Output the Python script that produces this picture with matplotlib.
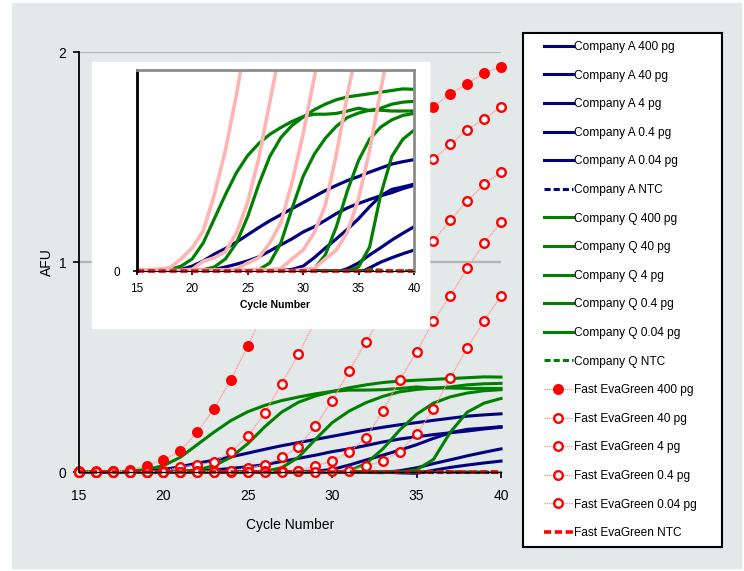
import matplotlib.pyplot as plt
from matplotlib.patches import Rectangle

# ---- data ----
cycles = list(range(15, 41))

a_400 = [0.0, 0.0, 0.001, 0.002, 0.004, 0.012, 0.025, 0.042, 0.056, 0.072, 0.09, 0.108, 0.125,
         0.14, 0.155, 0.17, 0.185, 0.2, 0.213, 0.225, 0.235, 0.246, 0.256, 0.266, 0.272, 0.277]
a_40 = [0.0, 0.0, 0.0, 0.0, 0.001, 0.001, 0.002, 0.004, 0.01, 0.017, 0.025, 0.035, 0.05,
        0.065, 0.08, 0.097, 0.11, 0.126, 0.143, 0.157, 0.168, 0.178, 0.187, 0.195, 0.205, 0.213]
a_4 = [0.0, 0.0, 0.0, 0.0, 0.0, 0.0, 0.0, 0.0, 0.0, 0.0, 0.001, 0.001, 0.002,
       0.002, 0.004, 0.012, 0.033, 0.057, 0.08, 0.104, 0.13, 0.16, 0.187, 0.203, 0.209, 0.216]
a_04 = [0.0, 0.0, 0.0, 0.0, 0.0, 0.0, 0.0, 0.0, 0.0, 0.0, 0.0, 0.0, 0.0,
        0.0, 0.0, 0.0, 0.0, -0.002, -0.003, 0.006, 0.02, 0.04, 0.058, 0.077, 0.094, 0.11]
a_004 = [0.0, 0.0, 0.0, 0.0, 0.0, 0.0, 0.0, 0.0, 0.0, 0.0, 0.0, 0.0, 0.0,
         0.0, 0.0, 0.0, 0.0, 0.0, 0.0, -0.004, -0.006, 0.008, 0.022, 0.033, 0.043, 0.052]
a_ntc = [0.0] * 26

q_400 = [0.0, 0.0, 0.001, 0.004, 0.012, 0.03, 0.07, 0.13, 0.19, 0.245, 0.287, 0.317, 0.34,
         0.357, 0.372, 0.384, 0.39, 0.39, 0.392, 0.398, 0.405, 0.399, 0.405, 0.415, 0.42, 0.422]
q_40 = [0.0, 0.0, 0.0, 0.0, 0.0, 0.001, 0.003, 0.01, 0.03, 0.07, 0.135, 0.215, 0.285,
        0.332, 0.362, 0.383, 0.401, 0.415, 0.426, 0.433, 0.437, 0.441, 0.445, 0.449, 0.453, 0.452]
q_4 = [0.0, 0.0, 0.0, 0.0, 0.0, 0.0, 0.0, 0.0, 0.0, 0.0, 0.0, 0.003, 0.02,
       0.07, 0.155, 0.235, 0.29, 0.33, 0.36, 0.382, 0.393, 0.4, 0.4, 0.398, 0.398, 0.398]
q_04 = [0.0, 0.0, 0.0, 0.0, 0.0, 0.0, 0.0, 0.0, 0.0, 0.0, 0.0, 0.0, 0.0,
        0.0, 0.0, 0.0, 0.005, 0.04, 0.11, 0.2, 0.275, 0.328, 0.358, 0.376, 0.387, 0.392]
q_004 = [0.0, 0.0, 0.0, 0.0, 0.0, 0.0, 0.0, 0.0, 0.0, 0.0, 0.0, 0.0, 0.0,
         0.0, 0.0, 0.0, 0.0, 0.0, 0.0, 0.0, 0.01, 0.06, 0.19, 0.285, 0.328, 0.35]
q_ntc = [0.0] * 21 + [0.004, 0.002, 0.0, 0.0, 0.0]

e_400 = [0.004, 0.003, 0.005, 0.008, 0.03, 0.057, 0.10, 0.19, 0.30, 0.44, 0.60, 0.77, 0.93,
         1.08, 1.21, 1.33, 1.43, 1.52, 1.59, 1.65, 1.70, 1.74, 1.80, 1.85, 1.90, 1.93]
e_40 = [0.002, 0.0, 0.003, 0.0, 0.002, 0.004, 0.024, 0.033, 0.048, 0.095, 0.17, 0.28, 0.42,
        0.56, 0.72, 0.87, 1.01, 1.13, 1.24, 1.34, 1.42, 1.49, 1.56, 1.63, 1.68, 1.74]
e_4 = [0.0, 0.001, 0.0, -0.002, 0.0, 0.002, 0.0, 0.003, 0.002, 0.005, 0.02, 0.033, 0.07,
       0.12, 0.22, 0.34, 0.48, 0.62, 0.75, 0.88, 0.99, 1.10, 1.20, 1.29, 1.37, 1.43]
e_04 = [0.0, 0.0, 0.002, 0.0, -0.002, 0.0, 0.002, 0.0, 0.003, 0.0, 0.002, 0.004, 0.003,
        0.006, 0.03, 0.052, 0.095, 0.163, 0.29, 0.44, 0.57, 0.72, 0.84, 0.97, 1.09, 1.19]
e_004 = [0.0, 0.0, 0.0, 0.002, 0.0, 0.0, 0.002, 0.0, 0.0, 0.003, 0.0, 0.002, 0.0,
         0.003, 0.0, 0.004, 0.006, 0.03, 0.052, 0.097, 0.18, 0.30, 0.45, 0.59, 0.72, 0.84]
e_ntc = [0.0] * 26

amounts = ['400 pg', '40 pg', '4 pg', '0.4 pg', '0.04 pg']
company_a = [a_400, a_40, a_4, a_04, a_004]
company_q = [q_400, q_40, q_4, q_04, q_004]
evagreen = [e_400, e_40, e_4, e_04, e_004]

blue = '#000080'
green = '#008000'
red = '#ff0000'
pink = '#ff9c9c'
bg = '#e3e8e8'

plt.rcParams['font.family'] = ['Liberation Sans', 'DejaVu Sans']

W, H = 744, 571
fig = plt.figure(figsize=(W / 100, H / 100), dpi=100)
fig.patch.set_facecolor('white')
fig.patches.append(Rectangle((12 / W, 1 - 568 / H), 729 / W, 565 / H,
                             transform=fig.transFigure, color=bg, zorder=-2))


def px_box(x0, y0, x1, y1):
    return [x0 / W, 1 - y1 / H, (x1 - x0) / W, (y1 - y0) / H]


# ---- main axes ----
ax = fig.add_axes(px_box(79, 52, 501, 472))
ax.set_facecolor(bg)

for vals, amt in zip(company_a, amounts):
    ax.plot(cycles, vals, color=blue, lw=2.2, label='Company A ' + amt, clip_on=False)
ax.plot(cycles, a_ntc, color=blue, lw=2.2, ls=(0, (2, 1)), label='Company A NTC', clip_on=False)
for vals, amt in zip(company_q, amounts):
    ax.plot(cycles, vals, color=green, lw=2.2, label='Company Q ' + amt, clip_on=False)
ax.plot(cycles, q_ntc, color=green, lw=2.2, ls=(0, (2, 1)), label='Company Q NTC', clip_on=False)
for i, (vals, amt) in enumerate(zip(evagreen, amounts)):
    ax.plot(cycles, vals, color=pink, lw=1.0, ls=(0, (1, 0.6)), marker='o', ms=6.2,
            mec=red, mew=1.7, mfc=red if i == 0 else 'white',
            label='Fast EvaGreen ' + amt, clip_on=False)
ax.plot(cycles, e_ntc, color=red, lw=2.6, ls=(0, (2, 1)), label='Fast EvaGreen NTC', clip_on=False)

ax.set_xlim(15, 40)
ax.set_ylim(0, 2)
ax.set_xticks([15, 20, 25, 30, 35, 40])
ax.set_yticks([0, 1, 2])
ax.yaxis.grid(True, color='#b4b4b4', lw=1.6)
ax.set_axisbelow(True)
for s in ['top', 'right']:
    ax.spines[s].set_visible(False)
ax.spines['left'].set_linewidth(1.3)
ax.spines['bottom'].set_linewidth(1.0)
ax.tick_params(labelsize=10, length=4, width=1.2, pad=5)
ax.tick_params(axis='x', pad=8)
ax.set_xlabel('Cycle Number', fontsize=10, labelpad=11)
ax.set_ylabel('AFU', fontsize=10, labelpad=3)

# ---- inset ----
fig.patches.append(Rectangle((92 / W, 1 - 328 / H), 337 / W, 266 / H,
                             transform=fig.transFigure, color='white', zorder=1))
ins = fig.add_axes(px_box(136.7, 70, 414, 271))
ins.set_zorder(2)
ins.set_facecolor('white')
for vals in company_a:
    ins.plot(cycles, vals, color=blue, lw=2.3)
ins.plot(cycles, a_ntc, color=blue, lw=2.3, ls=(0, (2, 1)))
for vals in company_q:
    ins.plot(cycles, vals, color=green, lw=2.3)
ins.plot(cycles, q_ntc, color=green, lw=2.3, ls=(0, (2, 1)))
for vals in evagreen:
    ins.plot(cycles, vals, color='#ffb4b4', lw=2.6)
ins.plot(cycles, e_ntc, color=red, lw=2.6, ls=(0, (2, 1)), clip_on=False)
ins.set_xlim(15, 40)
ins.set_ylim(0, 0.5)
ins.set_xticks([15, 20, 25, 30, 35, 40])
ins.set_yticks([0])
ins.spines['left'].set_linewidth(2)
ins.spines['left'].set_color('black')
for s in ['top', 'right']:
    ins.spines[s].set_linewidth(2)
    ins.spines[s].set_color('#8c8c8c')
ins.tick_params(labelsize=8.5, length=3, width=1.2, pad=4)
ins.tick_params(axis='x', pad=6)
ins.tick_params(axis='y', pad=9)
ins.set_xlabel('Cycle Number', fontsize=7.5, fontweight='bold', labelpad=3)

# ---- legend ----
fig.patches.append(Rectangle((523 / W, 1 - 547 / H), 199 / W, 514 / H,
                             transform=fig.transFigure, fc='white', ec='black', lw=1.5, zorder=3))
handles, labels = ax.get_legend_handles_labels()
leg = fig.legend(handles, labels, loc='upper left', bbox_to_anchor=(544 / W, 1 - 41 / H),
                 frameon=False, fontsize=8.6, labelspacing=1.39, handlelength=2.4,
                 handletextpad=0.15, borderpad=0, borderaxespad=0, numpoints=1)
leg.set_zorder(5)

fig.savefig('out.png', dpi=100)
